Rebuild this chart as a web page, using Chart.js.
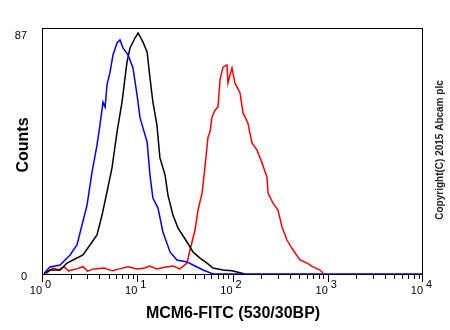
<!DOCTYPE html>
<html>
<head>
<meta charset="utf-8">
<script src="https://cdn.jsdelivr.net/npm/chart.js@4/dist/chart.umd.min.js"></script>
<style>
html,body{margin:0;padding:0;background:#fff;}
#wrap{width:450px;height:330px;}
</style>
</head>
<body>
<div id="wrap"><canvas id="c" width="450" height="330"></canvas></div>
<script>
// ---- data ----
const xTitle = "MCM6-FITC (530/30BP)";
const yTitle = "Counts";
const copyright = "Copyright(C) 2015 Abcam plc";
const yTickValues = [0, 87];
const xDecades = [0, 1, 2, 3, 4];

const blueX = [1.05,1.21,1.55,1.97,2.33,2.63,2.97,3.35,3.78,4.06,4.37,4.6,4.81,5.18,5.56,6.13,6.59,7.08,8.0,9.02,9.94,10.7,12.7,13.6,14.6,16.5,18.6,22.1,26.1,33.3,38.5,49,62.4,10000];
const blueY = [0.5,2.9,3.6,7.2,10.8,18,25.2,37.1,46.8,54,62.3,60.5,68.5,73.1,79.3,83.6,84.7,81.8,79.3,74.6,64.9,56.6,47.9,36,27.7,24.1,15.5,8.3,5.4,4.7,3.6,1.8,0.4,0.4];

const blackX = [1.05,1.21,1.55,1.83,2.12,2.69,3.19,3.78,4.27,4.81,5.43,6.13,6.92,7.8,8.39,9.47,10.2,11.5,12.7,13.6,14.6,16.1,17.3,19.6,21.0,23.7,26.8,33.3,38.5,45.6,54,62.4,79.5,98.8,120,135];
const blackY = [0.5,1.8,1.8,4.3,5.4,7.2,10.8,14.4,21.6,29.9,38.6,51.5,62.3,76.7,81.8,85.4,87.2,83.9,80.3,71.0,62.3,54.0,42.2,36.0,28.8,21.6,16.9,11.9,8.3,6.1,4.3,2.5,1.8,1.5,0.8,0.4];

const redX = [1.1,1.3,1.5,1.7,1.9,2.3,2.7,3.0,3.5,4.5,5.5,6.5,8,10,12,13.5,16,20,24,28,33.3,35.8,40.4,43.4,47.9,51.4,55.3,58,60.9,65.5,70.4,73.9,79.5,87.5,89.7,94,98.8,106,120,129,145,160,181,204,230,236,266,300,331,373,432,511,606,700,829,891];
const redY = [0.5,2.5,1.8,3.0,1.5,2.2,3.0,1.4,2.2,2.5,1.5,2.2,3.0,2.2,2.5,3.2,2.2,2.9,3.2,2.2,4.3,9.0,16.2,23.4,29.5,38.9,49.7,51.5,56.9,59.4,60.5,70.3,74.9,75.7,69.2,72.0,74.6,69.2,65.6,58.4,54.8,47.6,45.0,40.4,35.3,29.5,25.9,23.4,17.3,12.6,9.0,5.4,4.3,2.9,1.8,0.7];

function pts(xs, ys){ return xs.map((x,i)=>({x:x, y:ys[i]})); }

const FONT = "'Liberation Sans', Arial, sans-serif";

const decor = {
  id: 'decor',
  afterDraw(chart){
    const ctx = chart.ctx, a = chart.chartArea, xs = chart.scales.x;
    ctx.save();
    // frame
    ctx.strokeStyle = '#000'; ctx.lineWidth = 1;
    ctx.strokeRect(a.left + 0.5, a.top + 0.5, a.right - a.left - 1, a.bottom - a.top - 1);
    // log ticks
    ctx.beginPath();
    for (let d = 0; d < 4; d++) {
      for (let k = 1; k <= 9; k++) {
        const px = Math.round(xs.getPixelForValue(k * Math.pow(10, d))) + 0.5;
        const len = k === 1 ? 7 : 4;
        ctx.moveTo(px, a.bottom); ctx.lineTo(px, a.bottom + len);
      }
    }
    const pEnd = Math.round(xs.getPixelForValue(10000)) - 0.5;
    ctx.moveTo(pEnd, a.bottom); ctx.lineTo(pEnd, a.bottom + 7);
    ctx.stroke();
    // tick labels 10^n
    ctx.fillStyle = '#000';
    ctx.textBaseline = 'alphabetic';
    xDecades.forEach(e => {
      const px = xs.getPixelForValue(Math.pow(10, e));
      ctx.font = '11px ' + FONT;
      ctx.textAlign = 'right';
      ctx.fillText('10', px, a.bottom + 19);
      ctx.textAlign = 'left';
      ctx.fillText(String(e), px + 3, a.bottom + 13);
    });
    // x title
    ctx.font = 'bold 16px ' + FONT;
    ctx.textAlign = 'center';
    ctx.fillText(xTitle, 233, 318);
    // y title
    ctx.save();
    ctx.translate(28, 145);
    ctx.rotate(-Math.PI / 2);
    ctx.textAlign = 'center';
    ctx.fillText(yTitle, 0, 0);
    ctx.restore();
    // copyright
    ctx.save();
    ctx.translate(443, 150);
    ctx.rotate(-Math.PI / 2);
    ctx.font = 'bold 10px ' + FONT;
    ctx.fillStyle = '#222';
    ctx.textAlign = 'center';
    ctx.fillText(copyright, 0, 0);
    ctx.restore();
    ctx.restore();
  }
};

new Chart(document.getElementById('c'), {
  type: 'line',
  data: {
    datasets: [
      { label: 'blue', data: pts(blueX, blueY), borderColor: '#0000ff', borderWidth: 1.5, pointRadius: 0, tension: 0 },
      { label: 'black', data: pts(blackX, blackY), borderColor: '#000000', borderWidth: 1.5, pointRadius: 0, tension: 0 },
      { label: 'red', data: pts(redX, redY), borderColor: '#ff0000', borderWidth: 1.5, pointRadius: 0, tension: 0 }
    ]
  },
  options: {
    responsive: false,
    devicePixelRatio: 1,
    animation: false,
    events: [],
    layout: { padding: { top: 28, right: 27, left: 0, bottom: 0 } },
    plugins: { legend: { display: false }, tooltip: { enabled: false } },
    scales: {
      x: {
        type: 'logarithmic', min: 1, max: 10000,
        grid: { display: false }, border: { display: false },
        ticks: { display: false },
        afterFit: s => { s.height = 55; }
      },
      y: {
        type: 'linear', min: 0, max: 89,
        grid: { display: false }, border: { display: false },
        afterBuildTicks: s => { s.ticks = yTickValues.map(v => ({ value: v })); },
        ticks: { color: '#000', font: { family: FONT, size: 11 }, padding: 7, labelOffset: 2 },
        afterFit: s => { s.width = 42; }
      }
    }
  },
  plugins: [decor]
});
</script>
</body>
</html>
